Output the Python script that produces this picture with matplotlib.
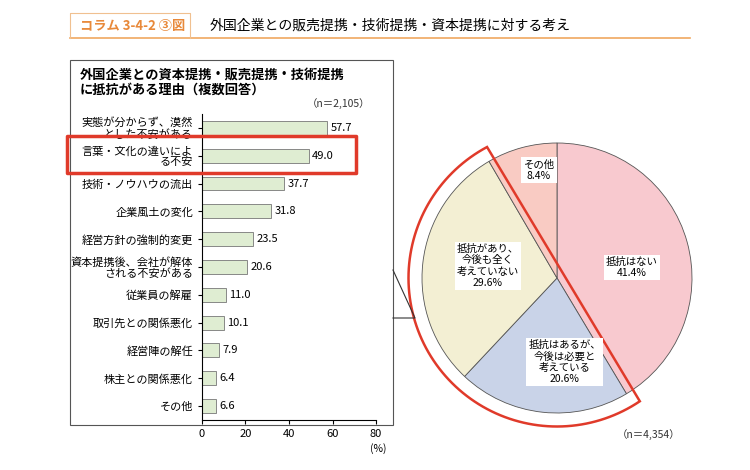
import matplotlib
matplotlib.use("Agg")
import matplotlib.pyplot as plt
import numpy as np
from matplotlib.patches import Rectangle, Polygon

plt.rcParams["font.family"] = "Noto Sans CJK JP"

reasons = ["実態が分からず、漠然\nとした不安がある", "言葉・文化の違いによ\nる不安", "技術・ノウハウの流出",
           "企業風土の変化", "経営方針の強制的変更", "資本提携後、会社が解体\nされる不安がある",
           "従業員の解雇", "取引先との関係悪化", "経営陣の解任", "株主との関係悪化", "その他"]
reason_pct = [57.7, 49.0, 37.7, 31.8, 23.5, 20.6, 11.0, 10.1, 7.9, 6.4, 6.6]

pie_labels = ["抵抗はない\n41.4%", "抵抗はあるが、\n今後は必要と\n考えている\n20.6%",
              "抵抗があり、\n今後も全く\n考えていない\n29.6%", "その他\n8.4%"]
pie_pct = [41.4, 20.6, 29.6, 8.4]
pie_colors = ["#f8c9cf", "#c9d3e8", "#f3efd3", "#f9cbc3"]

W, H = 750, 470
fig = plt.figure(figsize=(7.5, 4.7), dpi=100)
fig.patch.set_facecolor("white")


def fx(x):
    return x / W


def fy(y):
    return 1 - y / H


# header
fig.add_artist(plt.Line2D([fx(70), fx(690)], [fy(38), fy(38)], color="#f0a860", lw=1.2))
fig.add_artist(plt.Line2D([fx(70), fx(70), fx(190), fx(190)], [fy(38), fy(13), fy(13), fy(38)],
                          color="#f0c090", lw=0.8))
fig.text(fx(80), fy(26), "コラム 3-4-2 ③図", color="#e8893a", fontsize=9.5, fontweight="bold", va="center")
fig.text(fx(210), fy(26), "外国企業との販売提携・技術提携・資本提携に対する考え", fontsize=10, va="center")

# bar panel box
fig.add_artist(Rectangle((fx(70), fy(425)), fx(323), 365 / H, fill=False, ec="#555555", lw=0.8,
                         transform=fig.transFigure))
fig.text(fx(80), fy(82), "外国企業との資本提携・販売提携・技術提携\nに抵抗がある理由（複数回答）",
         fontsize=9.5, fontweight="bold", va="center", linespacing=1.15)
fig.text(fx(370), fy(104), "（n＝2,105）", fontsize=7.5, ha="right", va="center", color="#333333")

ax = fig.add_axes([fx(202), fy(420), fx(376 - 202), (420 - 114) / H])
y = np.arange(len(reasons))
ax.barh(y, reason_pct, height=0.5, color="#dfedd2", edgecolor="#777777", lw=0.6)
for yi, v in zip(y, reason_pct):
    ax.text(v + 1.5, yi, f"{v:.1f}", va="center", fontsize=8)
ax.set_yticks(y)
ax.set_yticklabels(reasons, fontsize=8, linespacing=1.05)
ax.set_ylim(len(reasons) - 0.5, -0.5)
ax.set_xlim(0, 80)
ax.set_xticks([0, 20, 40, 60, 80])
ax.tick_params(axis="x", labelsize=8, length=3)
ax.tick_params(axis="y", length=3)
for s in ["top", "right"]:
    ax.spines[s].set_visible(False)
ax.patch.set_alpha(0)
fig.text(fx(378), fy(452), "(%)", fontsize=7.5, ha="center")

# red highlight
fig.add_artist(Rectangle((fx(67), fy(173)), fx(289), 37 / H, fill=False, ec="#e03a2a", lw=2.5,
                         transform=fig.transFigure, joinstyle="round"))

# callout lines
fig.add_artist(plt.Line2D([fx(393), fx(415), fx(393)], [fy(270), fy(318), fy(318)], color="#333333", lw=0.8))

# pie
pax = fig.add_axes([fx(557 - 150), fy(278 + 150), fx(300), 300 / H])
pax.pie(pie_pct, colors=pie_colors, startangle=90, counterclock=False, radius=0.9,
        wedgeprops=dict(ec="#555555", lw=0.6))
pos = [(0.5, 0.07), (0.05, -0.56), (-0.46, 0.08), (-0.12, 0.72)]
for (px, py), lab in zip(pos, pie_labels):
    pax.text(px, py, lab, ha="center", va="center", fontsize=7.5, linespacing=1.15,
             bbox=dict(fc="white", ec="none", pad=1.5))
R, off = 0.99, 0.05
da = np.degrees(np.arccos(off / R))
angs = np.deg2rad(np.linspace(31 + da, 31 + 360 - da, 100))
pts = np.column_stack([R * np.cos(angs), R * np.sin(angs)])
pax.add_patch(Polygon(pts, closed=True, fill=False, ec="#e03a2a", lw=1.8))
pax.set_xlim(-1, 1)
pax.set_ylim(-1, 1)
pax.set_aspect("equal")
fig.text(fx(680), fy(435), "（n＝4,354）", fontsize=7.5, ha="right", va="center", color="#333333")

fig.savefig("out.png", dpi=100, facecolor="white")
